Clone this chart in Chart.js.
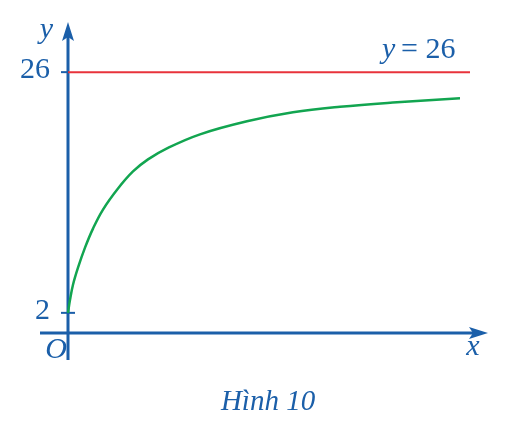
<!DOCTYPE html>
<html>
<head>
<meta charset="utf-8">
<script src="https://cdn.jsdelivr.net/npm/chart.js@4"></script>
<style>
  body { margin: 0; background: #fff; }
  #wrap { width: 510px; height: 430px; }
</style>
</head>
<body>
<div id="wrap"><canvas id="hinh10" width="510" height="430"></canvas></div>
<script>
// values
const curveX = [0, 0.2, 0.5, 1, 1.7, 2.5, 3.5, 5, 6.5, 8, 9.9, 13.2, 17.9, 22.5, 27.2, 32.9, 39.2];
const curveY = [2, 3.3, 4.8, 6.5, 8.5, 10.4, 12.3, 14.4, 16.1, 17.3, 18.4, 19.8, 21.1, 22.0, 22.55, 23.0, 23.4];
const asymptoteX = [0, 40.2];
const asymptoteY = [26, 26];
const yTicks = [2, 26];
const yTickLabels = ['2', '26'];

const blue = '#1b5fa9';
const red = '#e8333b';
const green = '#12a550';

function toPoints(xs, ys) {
  return xs.map(function(x, i) { return { x: x, y: ys[i] }; });
}

const axesPlugin = {
  id: 'axesPlugin',
  beforeDatasetsDraw(chart) {
    const ctx = chart.ctx;
    const sx = chart.scales.x, sy = chart.scales.y;
    const x0 = sx.getPixelForValue(0), y0 = sy.getPixelForValue(0);
    const area = chart.chartArea;
    ctx.save();
    ctx.strokeStyle = blue;
    ctx.fillStyle = blue;
    ctx.lineWidth = 3;
    // x axis
    ctx.beginPath();
    ctx.moveTo(area.left, y0);
    ctx.lineTo(area.right - 12, y0);
    ctx.stroke();
    ctx.beginPath();
    ctx.moveTo(area.right, y0);
    ctx.lineTo(area.right - 19, y0 - 6);
    ctx.lineTo(area.right - 15, y0);
    ctx.lineTo(area.right - 19, y0 + 6);
    ctx.closePath();
    ctx.fill();
    // y axis
    ctx.beginPath();
    ctx.moveTo(x0, area.bottom);
    ctx.lineTo(x0, area.top + 12);
    ctx.stroke();
    ctx.beginPath();
    ctx.moveTo(x0, area.top);
    ctx.lineTo(x0 - 6, area.top + 19);
    ctx.lineTo(x0, area.top + 15);
    ctx.lineTo(x0 + 6, area.top + 19);
    ctx.closePath();
    ctx.fill();
    // ticks
    ctx.lineWidth = 2;
    yTicks.forEach(function(v) {
      const py = sy.getPixelForValue(v);
      ctx.beginPath();
      ctx.moveTo(x0 - 7, py);
      ctx.lineTo(x0 + (v === 2 ? 7 : 0), py);
      ctx.stroke();
    });
    ctx.restore();
  },
  afterDraw(chart) {
    const ctx = chart.ctx;
    const sx = chart.scales.x, sy = chart.scales.y;
    const x0 = sx.getPixelForValue(0), y0 = sy.getPixelForValue(0);
    const area = chart.chartArea;
    ctx.save();
    ctx.fillStyle = blue;
    ctx.textBaseline = 'middle';
    ctx.textAlign = 'right';
    ctx.font = '30px "Liberation Serif"';
    yTicks.forEach(function(v, i) {
      ctx.fillText(yTickLabels[i], x0 - 18, sy.getPixelForValue(v) - 2);
    });
    ctx.font = 'italic 30px "Liberation Serif"';
    ctx.textBaseline = 'alphabetic';
    ctx.fillText('y', x0 - 15, area.top + 16);
    ctx.fillText('O', x0 - 1, y0 + 25);
    ctx.textAlign = 'center';
    ctx.fillText('x', area.right - 15, y0 + 22);
    // y = 26 label
    ctx.textAlign = 'left';
    const ly = sy.getPixelForValue(26) - 14;
    ctx.fillText('y', 382, ly);
    ctx.font = '30px "Liberation Serif"';
    ctx.fillText('= 26', 401, ly);
    // caption
    ctx.textAlign = 'center';
    ctx.font = 'italic 29px "Liberation Serif"';
    ctx.fillText('Hình 10', 268, 410);
    ctx.restore();
  }
};

new Chart(document.getElementById('hinh10').getContext('2d'), {
  type: 'scatter',
  data: {
    datasets: [
      {
        data: toPoints(asymptoteX, asymptoteY),
        showLine: true,
        borderColor: red,
        borderWidth: 2,
        pointRadius: 0
      },
      {
        data: toPoints(curveX, curveY),
        showLine: true,
        borderColor: green,
        borderWidth: 2.5,
        pointRadius: 0,
        tension: 0.4
      }
    ]
  },
  options: {
    responsive: false,
    animation: false,
    layout: { padding: { left: 40, right: 22, top: 22, bottom: 70 } },
    plugins: { legend: { display: false }, tooltip: { enabled: false } },
    scales: {
      x: { type: 'linear', display: false, min: -2.8, max: 42 },
      y: { type: 'linear', display: false, min: -2.7, max: 31 }
    }
  },
  plugins: [axesPlugin]
});
</script>
</body>
</html>
